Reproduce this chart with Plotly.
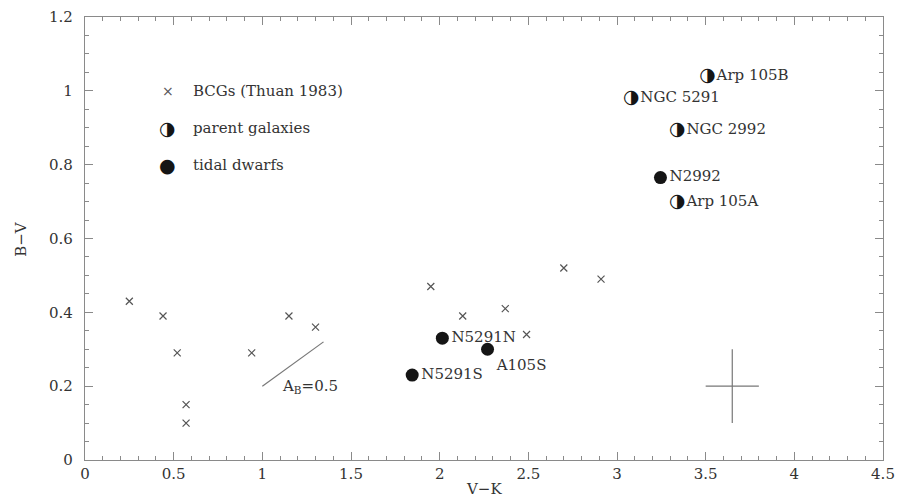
import plotly.graph_objects as go

# ---- data ----
bcg_vk = [0.25, 0.44, 0.52, 0.57, 0.57, 0.94, 1.15, 1.30, 1.95, 2.13, 2.37, 2.49, 2.70, 2.91]
bcg_bv = [0.43, 0.39, 0.29, 0.15, 0.10, 0.29, 0.39, 0.36, 0.47, 0.39, 0.41, 0.34, 0.52, 0.49]

parent_names = ["Arp 105B", "NGC 5291", "NGC 2992", "Arp 105A"]
parent_vk = [3.51, 3.08, 3.34, 3.34]
parent_bv = [1.04, 0.98, 0.894, 0.698]

dwarf_names = ["N5291N", "N5291S", "A105S", "N2992"]
dwarf_vk = [2.015, 1.845, 2.27, 3.245]
dwarf_bv = [0.33, 0.23, 0.30, 0.765]
dwarf_textpos = ["middle right", "middle right", "bottom right", "middle right"]

redden_vk = [1.0, 1.345]
redden_bv = [0.20, 0.32]
redden_label = "A<sub>B</sub>=0.5"

err_vk = [3.65]
err_bv = [0.20]
err_x = [0.15]
err_y = [0.10]

x_range = [0, 4.5]
y_range = [0, 1.2]
x_title = "V−K"
y_title = "B−V"

FONT = "DejaVu Serif"
TXT = "#333333"
AX = "#8a8a8a"
MK = "#151515"

fig = go.Figure()

# BCGs
fig.add_trace(go.Scatter(
    x=bcg_vk, y=bcg_bv, mode="markers",
    marker=dict(symbol="x-thin", size=7, line=dict(width=1.2, color="#555555")),
    showlegend=False, hoverinfo="skip"))

# parent galaxies: half-filled circle glyph
fig.add_trace(go.Scatter(
    x=parent_vk, y=parent_bv, mode="text", text=["◑"] * len(parent_vk),
    textposition="middle center",
    textfont=dict(family="DejaVu Sans", size=19, color=MK),
    showlegend=False, hoverinfo="skip"))
fig.add_trace(go.Scatter(
    x=parent_vk, y=parent_bv, mode="markers+text", text=parent_names,
    textposition="middle right",
    marker=dict(size=13, color="rgba(0,0,0,0)"),
    textfont=dict(family=FONT, size=15, color=TXT),
    showlegend=False, hoverinfo="skip"))

# tidal dwarfs
fig.add_trace(go.Scatter(
    x=dwarf_vk, y=dwarf_bv, mode="markers+text", text=dwarf_names,
    textposition=dwarf_textpos,
    marker=dict(symbol="circle", size=13, color=MK),
    textfont=dict(family=FONT, size=15, color=TXT),
    showlegend=False, hoverinfo="skip"))

# reddening vector
fig.add_trace(go.Scatter(
    x=redden_vk, y=redden_bv, mode="lines",
    line=dict(color="#777777", width=1.2),
    showlegend=False, hoverinfo="skip"))
fig.add_annotation(x=redden_vk[0] + 0.1, y=redden_bv[0], text=redden_label,
                   showarrow=False, xanchor="left", yanchor="middle",
                   font=dict(family=FONT, size=15, color=TXT))

# typical error bars
fig.add_trace(go.Scatter(
    x=err_vk, y=err_bv, mode="markers",
    marker=dict(size=1, color="rgba(0,0,0,0)"),
    error_x=dict(type="data", array=err_x, width=0, thickness=1.2, color="#777777"),
    error_y=dict(type="data", array=err_y, width=0, thickness=1.2, color="#777777"),
    showlegend=False, hoverinfo="skip"))

# manual legend (paper coords)
leg_items = [("×", "BCGs (Thuan 1983)", "DejaVu Sans", 14, "#555555"),
             ("◑", "parent galaxies", "DejaVu Sans", 19, MK),
             ("●", "tidal dwarfs", "DejaVu Sans", 19, MK)]
leg_y = [0.832, 0.749, 0.665]
for (g, lab, gf, gs, gc), yy in zip(leg_items, leg_y):
    fig.add_annotation(xref="paper", yref="paper", x=0.104, y=yy, text=g,
                       showarrow=False, xanchor="center", yanchor="middle",
                       font=dict(family=gf, size=gs, color=gc))
    fig.add_annotation(xref="paper", yref="paper", x=0.133, y=yy, text=lab,
                       showarrow=False, xanchor="left", yanchor="middle",
                       font=dict(family=FONT, size=15, color=TXT))

# axis titles
fig.add_annotation(xref="paper", yref="paper", x=0.5, y=-0.066, text=x_title,
                   showarrow=False, xanchor="center", yanchor="middle",
                   font=dict(family=FONT, size=15, color=TXT))
fig.add_annotation(xref="paper", yref="paper", x=-0.081, y=0.5, text=y_title,
                   showarrow=False, xanchor="center", yanchor="middle", textangle=-90,
                   font=dict(family=FONT, size=15, color=TXT))

axis_common = dict(
    showgrid=False, zeroline=False, showline=True, linecolor=AX, linewidth=1.2,
    mirror="ticks", ticks="inside", ticklen=8, tickwidth=1, tickcolor=AX,
    tickfont=dict(family=FONT, size=15, color=TXT), automargin=False,
)

fig.update_xaxes(range=x_range, dtick=0.5, tick0=0,
                 minor=dict(dtick=0.1, ticks="inside", ticklen=4, tickcolor=AX),
                 ticklabelstandoff=0, **axis_common)
fig.update_yaxes(range=y_range, dtick=0.2, tick0=0,
                 minor=dict(dtick=0.05, ticks="inside", ticklen=4, tickcolor=AX),
                 ticklabelstandoff=8, **axis_common)

fig.update_layout(
    width=911, height=499,
    margin=dict(l=85, r=28, t=17, b=39),
    paper_bgcolor="white", plot_bgcolor="white",
)

fig.write_html("out.html")
